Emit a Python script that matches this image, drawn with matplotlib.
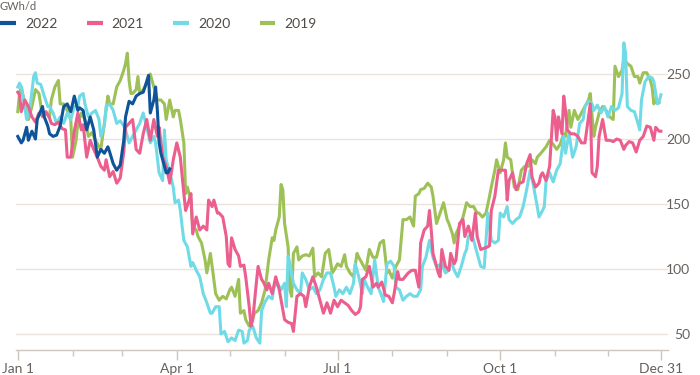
import matplotlib

matplotlib.use("Agg")
from matplotlib import pyplot as plt
from matplotlib.lines import Line2D

plt.rcParams["font.family"] = ["Lato", "DejaVu Sans"]

# (day of year, value)
y2022 = [
    (0, 202), (2, 197), (3, 199), (5, 209), (6, 199), (8, 206), (10, 200), (11, 215), (14, 225), (15, 217),
    (17, 210), (18, 204), (20, 202), (22, 203), (24, 210), (26, 225), (28, 227), (30, 221), (32, 233), (34, 222),
    (35, 224), (37, 222), (39, 207), (41, 217), (43, 207), (45, 186), (47, 192), (49, 189), (51, 194), (52, 190),
    (54, 181), (56, 176), (58, 180), (60, 199), (61, 217), (63, 229), (65, 227), (67, 233), (69, 235), (71, 236),
    (72, 240), (74, 249), (75, 220), (77, 230), (78, 240), (79, 222), (80, 197), (81, 189), (82, 184), (84, 174),
    (85, 174), (86, 177),
]
y2021 = [
    (0, 236), (1, 234), (2, 221), (4, 230), (6, 225), (8, 217), (10, 213), (12, 220), (14, 218), (16, 221),
    (18, 216), (19, 212), (21, 211), (23, 213), (25, 208), (27, 207), (28, 186), (30, 186), (32, 206), (34, 220),
    (36, 207), (37, 211), (39, 186), (41, 199), (43, 192), (45, 186), (47, 179), (49, 176), (50, 184), (52, 171),
    (54, 175), (56, 166), (58, 170), (60, 190), (61, 209), (63, 212), (65, 215), (67, 192), (69, 189), (71, 204),
    (73, 215), (75, 199), (77, 215), (79, 202), (80, 209), (82, 186), (84, 179), (86, 166), (88, 184), (90, 197),
    (92, 186), (94, 158), (95, 145), (97, 153), (98, 158), (99, 127), (101, 140), (103, 130), (105, 133), (107, 130),
    (108, 153), (110, 148), (111, 153), (113, 143), (114, 143), (116, 140), (118, 125), (119, 104), (120, 102), (121, 124),
    (123, 115), (125, 110), (126, 102), (128, 103), (129, 94), (131, 71), (132, 56), (133, 61), (135, 89), (136, 102),
    (138, 92), (139, 90), (141, 84), (142, 89), (144, 81), (146, 94), (148, 84), (151, 61), (153, 59), (155, 58),
    (156, 52), (158, 79), (160, 81), (162, 79), (163, 71), (165, 86), (167, 94), (169, 86), (171, 76), (173, 66),
    (175, 74), (177, 66), (179, 76), (181, 71), (183, 76), (185, 74), (187, 72), (189, 68), (191, 65), (193, 67),
    (194, 71), (195, 92), (197, 94), (199, 102), (201, 86), (203, 89), (204, 86), (206, 90), (208, 80), (210, 79),
    (212, 74), (213, 81), (215, 98), (216, 92), (218, 92), (221, 97), (223, 99), (225, 99), (227, 86), (228, 120),
    (230, 130), (232, 133), (233, 145), (234, 130), (235, 112), (238, 97), (239, 94), (240, 115), (242, 102), (244, 99),
    (245, 112), (247, 104), (248, 107), (250, 135), (252, 138), (253, 125), (255, 133), (257, 122), (259, 143), (260, 125),
    (262, 115), (264, 116), (266, 117), (267, 118), (268, 145), (270, 156), (272, 176), (274, 176), (276, 176), (277, 153),
    (278, 168), (280, 174), (282, 161), (284, 166), (286, 167), (288, 181), (290, 188), (291, 171), (293, 163), (295, 166),
    (296, 172), (297, 174), (299, 168), (301, 179), (303, 222), (304, 217), (305, 199), (306, 217), (308, 204), (309, 233),
    (310, 222), (311, 207), (313, 204), (315, 204), (317, 202), (319, 197), (321, 197), (323, 217), (324, 227), (325, 174),
    (327, 171), (328, 179), (329, 202), (331, 215), (333, 199), (335, 199), (337, 198), (339, 200), (341, 199), (343, 192),
    (344, 195), (346, 198), (348, 197), (350, 190), (352, 199), (354, 202), (356, 210), (358, 209), (360, 199), (361, 209),
    (363, 206), (364, 206),
]
y2020 = [
    (0, 240), (1, 243), (2, 240), (4, 225), (5, 215), (7, 225), (9, 248), (10, 251), (11, 243), (13, 242),
    (15, 233), (17, 225), (18, 225), (20, 220), (22, 212), (24, 217), (26, 212), (28, 220), (30, 215), (32, 225),
    (34, 225), (35, 233), (37, 235), (38, 227), (40, 217), (42, 220), (44, 222), (46, 215), (47, 202), (49, 210),
    (50, 225), (52, 227), (54, 222), (56, 212), (58, 214), (60, 210), (61, 207), (63, 197), (65, 202), (67, 207),
    (69, 212), (71, 220), (73, 209), (75, 197), (77, 202), (78, 197), (80, 174), (82, 168), (83, 207), (84, 184),
    (86, 174), (88, 163), (89, 151), (91, 153), (92, 145), (93, 133), (94, 122), (96, 117), (98, 102), (99, 105),
    (101, 99), (103, 94), (105, 81), (107, 74), (109, 66), (110, 66), (112, 71), (114, 71), (115, 50), (117, 52),
    (119, 44), (121, 47), (123, 45), (125, 53), (127, 52), (128, 43), (130, 45), (131, 53), (133, 56), (135, 47),
    (137, 43), (138, 68), (140, 75), (142, 79), (144, 77), (145, 86), (147, 89), (149, 84), (151, 89), (152, 71),
    (153, 110), (154, 104), (156, 89), (158, 84), (160, 81), (161, 97), (163, 92), (165, 84), (167, 86), (169, 81),
    (171, 84), (173, 92), (175, 97), (177, 97), (179, 86), (180, 79), (182, 84), (184, 81), (186, 86), (188, 81),
    (190, 89), (191, 104), (193, 94), (195, 81), (196, 92), (198, 86), (200, 81), (202, 107), (204, 86), (206, 79),
    (207, 75), (209, 104), (211, 106), (213, 102), (214, 86), (216, 84), (218, 76), (220, 79), (222, 81), (224, 79),
    (226, 79), (228, 84), (229, 102), (231, 109), (233, 122), (235, 109), (237, 102), (240, 104), (242, 97), (244, 99),
    (245, 107), (247, 99), (249, 94), (251, 102), (253, 112), (254, 115), (255, 125), (257, 127), (259, 117), (261, 107),
    (262, 102), (264, 101), (265, 122), (266, 143), (268, 122), (270, 120), (272, 122), (273, 143), (275, 140), (277, 148),
    (278, 138), (280, 135), (282, 138), (284, 140), (286, 148), (288, 161), (290, 176), (292, 163), (294, 148), (295, 140),
    (297, 145), (298, 148), (299, 168), (301, 174), (303, 167), (305, 176), (307, 181), (309, 202), (310, 189), (312, 204),
    (314, 186), (316, 194), (318, 212), (320, 215), (321, 225), (323, 229), (325, 227), (326, 222), (328, 226), (330, 220),
    (332, 225), (334, 217), (336, 225), (338, 222), (340, 224), (342, 235), (343, 274), (344, 266), (345, 225), (347, 222),
    (349, 221), (351, 212), (352, 207), (353, 230), (355, 244), (357, 248), (359, 247), (360, 244), (362, 227), (363, 229),
    (364, 234),
]
y2019 = [
    (0, 221), (1, 235), (2, 240), (4, 227), (6, 215), (8, 225), (10, 238), (12, 235), (14, 217), (16, 220),
    (18, 217), (19, 230), (21, 240), (23, 245), (24, 227), (26, 227), (28, 222), (30, 215), (31, 186), (33, 199),
    (34, 212), (36, 220), (38, 215), (40, 202), (42, 205), (44, 199), (46, 194), (47, 192), (49, 212), (51, 233),
    (52, 227), (54, 227), (56, 240), (58, 245), (60, 253), (61, 258), (62, 266), (63, 245), (64, 235), (65, 235),
    (67, 238), (68, 248), (69, 235), (71, 238), (73, 243), (75, 250), (77, 240), (79, 230), (80, 230), (81, 230),
    (83, 227), (84, 215), (86, 230), (88, 217), (89, 222), (91, 222), (92, 215), (94, 197), (95, 158), (96, 163),
    (98, 153), (99, 133), (101, 130), (102, 125), (104, 120), (106, 107), (107, 97), (109, 112), (110, 102), (112, 81),
    (114, 76), (116, 79), (118, 77), (120, 84), (121, 86), (123, 79), (125, 92), (126, 66), (128, 68), (129, 61),
    (131, 56), (132, 58), (134, 66), (136, 68), (138, 74), (140, 84), (142, 107), (144, 124), (145, 122), (146, 130),
    (148, 140), (149, 165), (150, 161), (151, 135), (153, 117), (154, 84), (155, 79), (156, 112), (158, 117), (159, 107),
    (161, 110), (163, 111), (165, 110), (167, 116), (168, 94), (170, 97), (172, 94), (174, 112), (176, 115), (178, 97),
    (179, 99), (181, 104), (183, 102), (185, 111), (186, 102), (188, 97), (190, 94), (192, 112), (193, 109), (195, 104),
    (197, 99), (199, 115), (201, 109), (203, 109), (205, 120), (207, 122), (209, 97), (210, 99), (212, 93), (214, 102),
    (216, 107), (218, 138), (220, 138), (222, 140), (224, 133), (225, 156), (227, 158), (228, 161), (230, 162), (232, 166),
    (234, 163), (235, 156), (237, 135), (239, 143), (241, 151), (243, 138), (244, 135), (246, 127), (247, 120), (248, 127),
    (250, 133), (252, 140), (254, 151), (256, 148), (258, 148), (260, 143), (261, 143), (263, 140), (265, 143), (267, 156),
    (268, 163), (270, 176), (271, 184), (273, 174), (275, 184), (276, 197), (277, 186), (279, 184), (281, 163), (283, 161),
    (285, 176), (287, 179), (289, 179), (291, 184), (293, 181), (294, 186), (296, 189), (299, 194), (301, 199), (303, 196),
    (305, 192), (307, 196), (309, 204), (310, 202), (312, 222), (313, 209), (315, 222), (317, 215), (319, 220), (321, 225),
    (323, 230), (324, 235), (326, 202), (327, 209), (329, 220), (331, 225), (333, 222), (335, 217), (337, 215), (338, 256),
    (340, 248), (342, 253), (343, 261), (345, 258), (347, 256), (349, 248), (351, 248), (352, 243), (354, 251), (356, 251),
    (358, 245), (359, 240), (360, 227), (361, 230), (363, 228),
]

years = ["2022", "2021", "2020", "2019"]
colors = {"2022": "#0f5499", "2021": "#eb5e8d", "2020": "#70dbe6", "2019": "#9dc157"}
series = {"2022": y2022, "2021": y2021, "2020": y2020, "2019": y2019}

x_tick_days = [0, 90, 181, 273, 364]
x_tick_labels = ["Jan 1", "Apr 1", "Jul 1", "Oct 1", "Dec 31"]
month_days = [31, 59, 120, 151, 212, 243, 304, 334]
y_ticks = [50, 100, 150, 200, 250]

TEXT = "#66605c"
GRID = "#ebe3dc"
AXIS = "#cfc6be"

fig = plt.figure(figsize=(7, 3.75), dpi=100)
ax = fig.add_axes([16 / 700, 1 - 349.6 / 375, 652 / 700, 312 / 375])

# draw oldest first so 2022 sits on top
for year in reversed(years):
    days = [d for d, _ in series[year]]
    vals = [v for _, v in series[year]]
    ax.plot(days, vals, color=colors[year], lw=2.2, solid_joinstyle="round", zorder=3)

ax.set_xlim(-1, 368)
ax.set_ylim(38, 278)

ax.set_yticks(y_ticks)
ax.yaxis.tick_right()
ax.tick_params(axis="y", length=0, pad=16, labelsize=10, labelcolor=TEXT)
for lbl in ax.get_yticklabels():
    lbl.set_ha("right")
ax.grid(axis="y", color=GRID, lw=1)
ax.set_axisbelow(True)

ax.set_xticks(x_tick_days)
ax.set_xticklabels(x_tick_labels)
ax.set_xticks(month_days, minor=True)
ax.tick_params(axis="x", which="major", length=7, width=1, color=AXIS, pad=3, labelsize=10, labelcolor=TEXT)
ax.tick_params(axis="x", which="minor", length=4.5, width=1, color=AXIS)

for side in ["top", "left", "right"]:
    ax.spines[side].set_visible(False)
ax.spines["bottom"].set_color(AXIS)
ax.spines["bottom"].set_linewidth(1)

handles = [Line2D([], [], color=colors[y], lw=3, solid_capstyle="butt") for y in years]
fig.legend(
    handles,
    years,
    loc="center left",
    bbox_to_anchor=(0, 1 - 24 / 375),
    ncol=4,
    frameon=False,
    borderpad=0,
    borderaxespad=0,
    handlelength=1.15,
    handletextpad=0.65,
    columnspacing=2.1,
    fontsize=10,
    labelcolor="#4f4a47",
)

# unit label, squeezed into the strip above the legend
fig.text(0.0, 1 - 1 / 375, "GWh/d", fontsize=8, color=TEXT, va="top", ha="left")

fig.savefig("out.png", dpi=100)
